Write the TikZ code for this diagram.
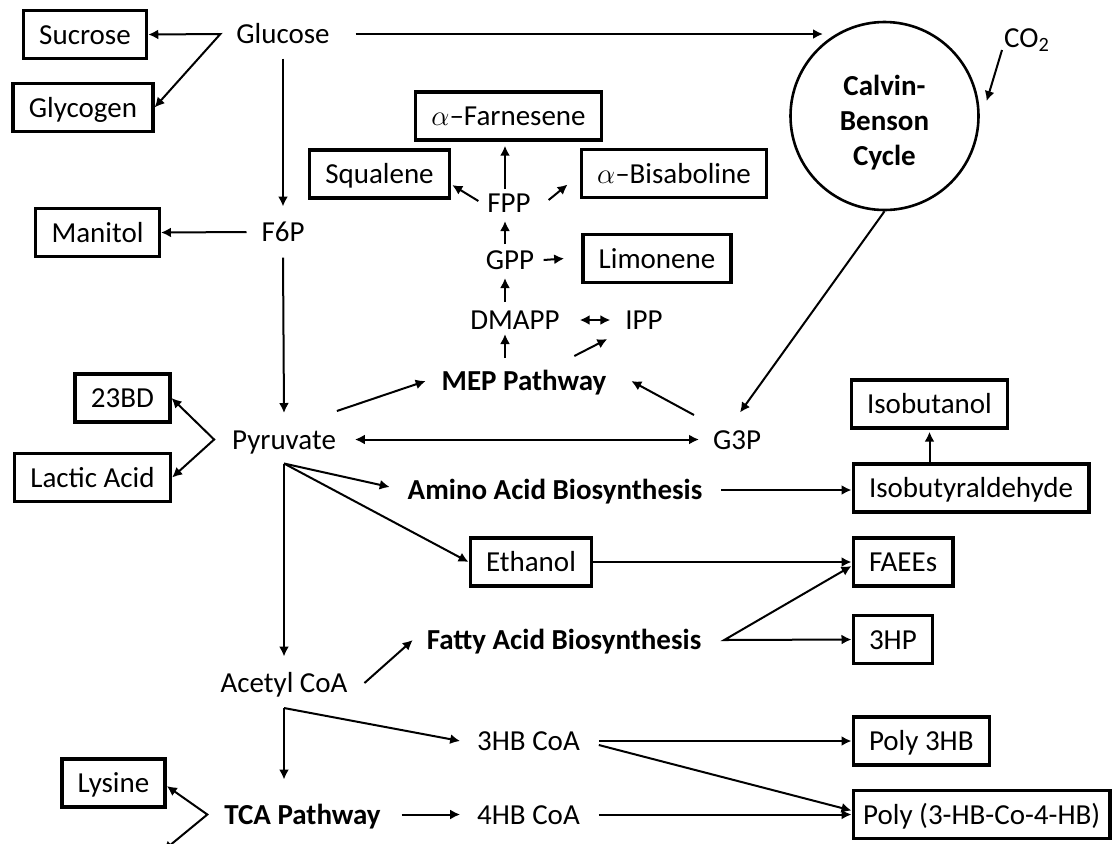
\documentclass[tikz,border=0pt]{standalone}
\usepackage{fontspec}
\setmainfont{Carlito}
\usetikzlibrary{arrows.meta, calc}

\begin{document}
\begin{tikzpicture}[
  x=0.5pt, y=-0.5pt,
  >={Latex[length=5pt, width=5pt]}, line width=1pt,
  font=\fontsize{14.5pt}{17.5pt}\selectfont,
  met/.style   = {inner sep=0pt, text height=9.5pt, text depth=0pt},
  way/.style   = {met, font=\fontsize{14.5pt}{17.5pt}\selectfont\bfseries},
  prod/.style  = {draw, line width=1.7pt, inner xsep=7.9pt, inner ysep=0pt,
                  minimum height=24pt, text height=9.5pt, text depth=0pt},
  wheel/.style = {draw, circle, line width=1.3pt, inner sep=0pt, minimum size=94pt},
]
\useasboundingbox (0,0) rectangle (1114,843);

%--- Top: glucose and Calvin-Benson cycle ---
  \node[met]  (glucose)  at (283,34)     {Glucose};
  \node[prod] (sucrose)  at (85,34.5)    {Sucrose};
  \node[prod] (glycogen) at (83,107.5)   {Glycogen};
  \node[met]  (f6p)      at (283,232)    {F6P};
  \node[prod] (manitol)  at (97.5,232.5) {Manitol};

  \node[wheel] (cbc) at (884.5,116) {};
  \node[font=\fontsize{14.5pt}{17.5pt}\selectfont\bfseries, align=center, inner sep=0pt]
                                              (cbtxt) at (884.5,122.5) {Calvin-\\Benson\\Cycle};
  \node[met]  (co2)      at (1027,38)    {CO\textsubscript{2}};
  \coordinate (cbin) at (823,34);

%--- MEP pathway and terpenes ---
  \node[way]  (mep)        at (524,381)   {MEP Pathway};
  \node[met]  (dmapp)      at (515,320)   {DMAPP};
  \node[met]  (ipp)        at (644,320)   {IPP};
  \node[met]  (gpp)        at (510,260)   {GPP};
  \node[prod] (limonene)   at (657,258.5) {Limonene};
  \node[met]  (fpp)        at (509,203)   {FPP};
  \node[prod] (squalene)   at (379.5,174) {Squalene};
  \node[prod] (bisaboline) at (674,173.5) {$\alpha$--Bisaboline};
  \node[prod] (farnesene)  at (508.5,116) {$\alpha$--Farnesene};

%--- Middle: pyruvate and G3P ---
  \node[met]  (pyruvate) at (284,439.5)  {Pyruvate};
  \node[prod] (bd23)     at (122.5,398)  {23BD};
  \node[prod] (lactic)   at (92.5,477.5) {Lactic Acid};
  \node[met]  (g3p)      at (737,439.5)  {G3P};
  \node[way]  (amino)    at (555,490)    {Amino Acid Biosynthesis};
  \node[prod] (ethanol)  at (531,562)    {Ethanol};
  \node[way]  (fatty)    at (564,640)    {Fatty Acid Biosynthesis};

  \node[prod]              (isobutanol) at (929.5,404) {Isobutanol};
  \node[prod, anchor=west] (isoald)     at (851.5,488) {Isobutyraldehyde};
  \node[prod, anchor=west] (faees)      at (851.5,562) {FAEEs};
  \node[prod, anchor=west] (hp3)        at (851.5,639.5) {3HP};

%--- Bottom: acetyl CoA and TCA ---
  \node[met]  (acetyl) at (284,683)     {Acetyl CoA};
  \node[way]  (tca)    at (302.5,814.5) {TCA Pathway};
  \node[prod] (lysine) at (113.5,783)   {Lysine};
  \node[met]  (hb3)    at (528.5,741)   {3HB CoA};
  \node[met]  (hb4)    at (528.5,814.5) {4HB CoA};
  \node[prod, anchor=west] (poly3hb) at (851.5,741) {Poly 3HB};
  \node[prod, anchor=west, inner xsep=5pt] (polyco) at (851.5,814.5) {Poly (3-HB-Co-4-HB)};
  \coordinate (tcaout) at (163,851);

%--- connectors ---
  \coordinate (gsplit) at ([xshift=-7.5pt]glucose.west);
  \draw[<->] (sucrose.east) -- (gsplit) -- (glycogen.east);
  \draw[->] ([yshift=-7pt]glucose.south) -- ([yshift=7.5pt]f6p.north);
  \draw[->] ([xshift=12.5pt]glucose.east) -- (cbin);
  \draw[->] ([xshift=-7pt]f6p.west) -- (manitol.east);
  \draw[->] ([yshift=-7.5pt]f6p.south) -- ([yshift=8pt]pyruvate.north);

  \draw[->] ([shift={(-12.5pt,-0.75pt)}]co2.south) -- ([xshift=4pt]cbc.9);
  \draw[->] (cbc.south) -- ([shift={(1.5pt,8.25pt)}]g3p.north);

  \coordinate (pysplit) at ([xshift=-8.5pt]pyruvate.west);
  \draw[<->] (bd23.east) -- (pysplit) -- (lactic.east);
  \draw[<->] ([xshift=9pt]pyruvate.east) -- ([xshift=-6.5pt]g3p.west);
  \draw[->] ([yshift=9pt]pyruvate.north east) -- ([xshift=-7.5pt]mep.west);
  \draw[->] ([shift={(-9pt,7pt)}]g3p.north west) -- ([xshift=12pt]mep.east);

  \draw[->] ([shift={(-9.5pt,6.25pt)}]mep.north) -- ([shift={(-5pt,-1.75pt)}]dmapp.south);
  \draw[->] ([shift={(-16.5pt,7.25pt)}]mep.north east) -- ([shift={(-8.5pt,-4.25pt)}]ipp.south west);
  \draw[<->] ([xshift=9.5pt]dmapp.east) -- ([xshift=-7pt]ipp.west);
  \draw[->] ([shift={(-5pt,3.75pt)}]dmapp.north) -- ([shift={(-2.5pt,-3.75pt)}]gpp.south);
  \draw[->] ([xshift=4.25pt]gpp.east) -- ([xshift=-8.5pt]limonene.west);
  \draw[->] ([shift={(-2.5pt,2.75pt)}]gpp.north) -- ([shift={(-2pt,-3.75pt)}]fpp.south);
  \draw[->] ([shift={(-2pt,1.75pt)}]fpp.north) -- ([shift={(-1.75pt,-2pt)}]farnesene.south);
  \draw[->] ([shift={(-4pt,1pt)}]fpp.west) -- ([shift={(0.5pt,-5.5pt)}]squalene.east);
  \draw[->] ([shift={(8.5pt,1.5pt)}]fpp.east) -- ([shift={(-6pt,-5.5pt)}]bisaboline.west);

  \coordinate (pyrdown) at ([yshift=-6.75pt]pyruvate.south);
  \draw[->] (pyrdown) -- ([yshift=8pt]acetyl.north);
  \draw[->] (pyrdown) -- ([shift={(-8.5pt,1.5pt)}]amino.west);
  \draw[->] (pyrdown) -- (ethanol.west);

  \draw[->] ([xshift=9pt]amino.east) -- (amino.east -| isoald.west);
  \draw[->] (isoald.north -| isobutanol.south) -- ([yshift=-1pt]isobutanol.south);
  \draw[->] (ethanol.east) -- (faees.west);
  \coordinate (fvert) at ([xshift=11pt]fatty.east);
  \draw[<->] ([yshift=-2pt]faees.west) -- (fvert) -- (hp3.west);
  \draw[->] ([xshift=8pt]acetyl.east) -- ([xshift=-6.5pt]fatty.west);

  \coordinate (acvert) at ([yshift=-7.25pt]acetyl.south);
  \draw[->] (acvert) -- ($(acvert |- tca.north)+(0,12.25pt)$);
  \draw[->] (acvert) -- ([xshift=-8pt]hb3.west);

  \coordinate (tsplit) at ([xshift=-8pt]tca.west);
  \draw[<->] ([yshift=-1.5pt]lysine.east) -- (tsplit) -- (tcaout);
  \draw[->] ([xshift=10pt]tca.east) -- ([xshift=-8pt]hb4.west);
  \draw[->] ([xshift=9pt]hb3.east) -- (poly3hb.west);
  \draw[->] ([shift={(9pt,-2pt)}]hb3.east) -- ([yshift=2pt]polyco.west);
  \draw[->] ([xshift=9pt]hb4.east) -- (hb4.east -| polyco.west);
\end{tikzpicture}
\end{document}
